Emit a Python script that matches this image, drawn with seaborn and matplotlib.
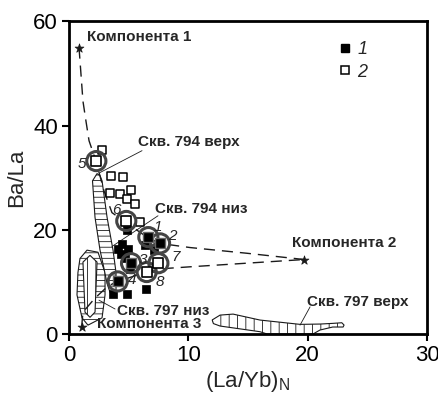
import matplotlib
matplotlib.use('Agg')
import matplotlib.pyplot as plt
import seaborn as sns
import pandas as pd
from matplotlib.patches import Polygon
from matplotlib.lines import Line2D

# ---------------- data ----------------
s1_x = [4.84, 4.47, 4.13, 4.97, 4.36, 4.69, 6.37, 7.15, 3.71, 4.84, 6.43, 5.11]
s1_y = [19.9, 17.3, 16.4, 16.4, 15.4, 14.5, 17.0, 16.2, 7.6, 7.6, 8.6, 12.4]
s2_x = [2.77, 3.55, 4.53, 3.41, 4.25, 5.17, 4.89, 5.51, 5.93]
s2_y = [35.4, 30.3, 30.1, 27.1, 26.8, 27.6, 25.9, 25.0, 21.6]

circ_ids = ['5', '6', '1', '2', '3', '7', '8', '4']
circ_x = [2.29, 4.80, 6.65, 7.63, 5.20, 7.49, 6.51, 4.08]
circ_y = [33.2, 21.7, 18.6, 17.4, 13.6, 13.6, 11.9, 10.1]
circ_series = ['2', '2', '1', '1', '1', '2', '2', '1']

comp_names = ['Компонента 1', 'Компонента 2', 'Компонента 3']
comp_x = [0.84, 19.7, 1.06]
comp_y = [55.0, 14.3, 1.4]

curveA_x = [0.84, 1.17, 1.42, 1.68, 2.26, 2.93, 3.6, 4.78, 6.6, 7.6, 10.14, 14.92, 19.7]
curveA_y = [55.0, 44.7, 40.9, 37.1, 33.2, 27.5, 23.3, 21.4, 18.5, 17.4, 16.6, 15.5, 14.3]
curveB_x = [1.06, 1.17, 2.18, 3.27, 4.08, 6.51, 8.21, 10.14, 14.92, 19.7]
curveB_y = [1.4, 4.2, 6.9, 9.2, 10.1, 11.9, 12.6, 12.9, 13.6, 14.3]

f794top_x = [1.97, 2.18, 2.6, 2.93, 3.19, 3.44, 3.69, 3.94, 3.94, 3.69, 3.19, 2.77, 2.6, 2.35]
f794top_y = [29.4, 22.4, 16.1, 12.6, 9.7, 8.0, 7.5, 8.4, 11.8, 16.1, 22.4, 29.4, 30.4, 30.8]
f797low_out_x = [1.51, 2.43, 3.02, 3.02, 2.77, 1.59, 1.09, 0.67, 0.75, 0.92]
f797low_out_y = [16.1, 15.7, 11.8, 7.5, 3.1, 1.7, 3.1, 7.5, 11.8, 14.5]
f797low_in_x = [1.76, 2.35, 2.18, 1.76, 1.34, 1.17]
f797low_in_y = [15.1, 13.8, 4.2, 3.2, 4.2, 13.8]
f797top_x = [12.0, 12.66, 13.75, 16.0, 19.36, 21.03, 22.1, 22.86, 23.05, 22.97, 22.1, 21.03,
             20.45, 16.6, 16.0, 12.66, 12.1]
f797top_y = [2.7, 3.63, 3.82, 2.68, 1.85, 1.91, 2.04, 2.16, 1.72, 1.34, 1.34, 0.76,
             0.0, 0.0, 0.44, 1.53, 2.0]

x_ticks = [0, 10, 20, 30]
y_ticks = [0, 20, 40, 60]

# ---------------- style ----------------
sns.set_style('ticks')
plt.rcParams['font.family'] = ['Liberation Sans', 'DejaVu Sans']
plt.rcParams['hatch.linewidth'] = 0.6
plt.rcParams['mathtext.fontset'] = 'custom'
plt.rcParams['mathtext.rm'] = 'Liberation Sans'

fig = plt.figure(figsize=(4.39, 3.99), dpi=100)
ax = fig.add_axes([69 / 439, 1 - 334 / 399, 358 / 439, 312.5 / 399])

ink = '#1a1a1a'

# hatched fields
def field(xs, ys, hatch, z):
    p = Polygon(list(zip(xs, ys)), closed=True, facecolor='white', edgecolor=ink,
                linewidth=0.8, hatch=hatch, zorder=z)
    ax.add_patch(p)

field(f797low_out_x, f797low_out_y, '---', 2)
field(f797low_in_x, f797low_in_y, '||', 2.1)
field(f794top_x, f794top_y, '---', 2.2)
field(f797top_x, f797top_y, '||', 2)

# mixing curves
dfA = pd.DataFrame({'x': curveA_x, 'y': curveA_y})
dfB = pd.DataFrame({'x': curveB_x, 'y': curveB_y})
for d in (dfA, dfB):
    sns.lineplot(data=d, x='x', y='y', sort=False, estimator=None, ax=ax,
                 color=ink, linewidth=1.0, dashes=False, zorder=3)
for ln in ax.lines:
    ln.set_linestyle((0, (8, 5)))

# components
sns.scatterplot(x=comp_x, y=comp_y, marker='*', s=45, color=ink, edgecolor=ink,
                linewidth=0.5, ax=ax, zorder=4)

# points
sns.scatterplot(x=s1_x, y=s1_y, marker='s', s=32, color='black', edgecolor='black',
                linewidth=0.5, ax=ax, zorder=5)
sns.scatterplot(x=s2_x, y=s2_y, marker='s', s=38, color='white', edgecolor='black',
                linewidth=1.1, ax=ax, zorder=5)

dfc = pd.DataFrame({'x': circ_x, 'y': circ_y, 's': circ_series})
sns.scatterplot(data=dfc, x='x', y='y', marker='o', s=190, facecolor='none',
                edgecolor='#444444', linewidth=2.2, ax=ax, zorder=6)
c1 = dfc[dfc.s == '1']
c2 = dfc[dfc.s == '2']
sns.scatterplot(data=c1, x='x', y='y', marker='s', s=45, color='black', edgecolor='#666666',
                linewidth=1.0, ax=ax, zorder=7)
sns.scatterplot(data=c2, x='x', y='y', marker='s', s=45, color='white', edgecolor='black',
                linewidth=1.2, ax=ax, zorder=7)

# point numbers
num_pos = {'5': (1.09, 32.7), '6': (3.94, 23.9), '1': (7.46, 20.6), '2': (8.63, 18.9),
           '3': (6.2, 14.3), '7': (8.97, 14.7), '8': (7.63, 9.9), '4': (5.26, 10.3)}
for k, (tx, ty) in num_pos.items():
    ax.text(tx, ty, k, fontsize=11, style='italic', ha='center', va='center', zorder=8)

# labels
lab = dict(fontsize=11, fontweight='bold', ha='left', va='center', zorder=8)
ax.text(1.51, 57.1, comp_names[0], **lab)
ax.text(18.67, 17.4, comp_names[1], **lab)
ax.text(2.32, 1.9, comp_names[2], **lab)
ax.text(4.0, 4.4, 'Скв. 797 низ', **lab)
ax.text(19.95, 6.1, 'Скв. 797 верх', **lab)
ax.text(5.76, 36.9, 'Скв. 794 верх', **lab)
ax.text(7.21, 24.0, 'Скв. 794 низ', **lab)

# leader lines
for (x0, y0, x1, y1) in [(2.6, 31.0, 6.12, 35.2), (3.6, 16.8, 7.46, 22.7),
                         (2.51, 6.5, 3.86, 4.8), (19.36, 1.7, 20.2, 5.2)]:
    ax.plot([x0, x1], [y0, y1], color=ink, linewidth=0.6, zorder=3)

# legend
handles = [Line2D([], [], marker='s', linestyle='none', markersize=5.5, markerfacecolor='black',
                  markeredgecolor='black'),
           Line2D([], [], marker='s', linestyle='none', markersize=6, markerfacecolor='white',
                  markeredgecolor='black', markeredgewidth=1.1)]
ax.legend(handles, ['1', '2'], loc='upper left', bbox_to_anchor=(0.725, 0.96), frameon=False,
          prop={'size': 13, 'style': 'italic'}, handletextpad=0.2, handlelength=1.0,
          labelspacing=0.3, borderaxespad=0)

ax.set_xlim(0, 30)
ax.set_ylim(0, 60)
ax.set_xticks(x_ticks)
ax.set_yticks(y_ticks)
ax.tick_params(direction='out', length=5, width=1.5, labelsize=16, colors='black', pad=3)
for sp in ax.spines.values():
    sp.set_visible(True)
    sp.set_linewidth(2)
    sp.set_color('black')
ax.set_xlabel('(La/Yb)$_\\mathregular{N}$', fontsize=16, labelpad=2)
ax.set_ylabel('Ba/La', fontsize=16, labelpad=4)

fig.savefig('out.png', dpi=100)
